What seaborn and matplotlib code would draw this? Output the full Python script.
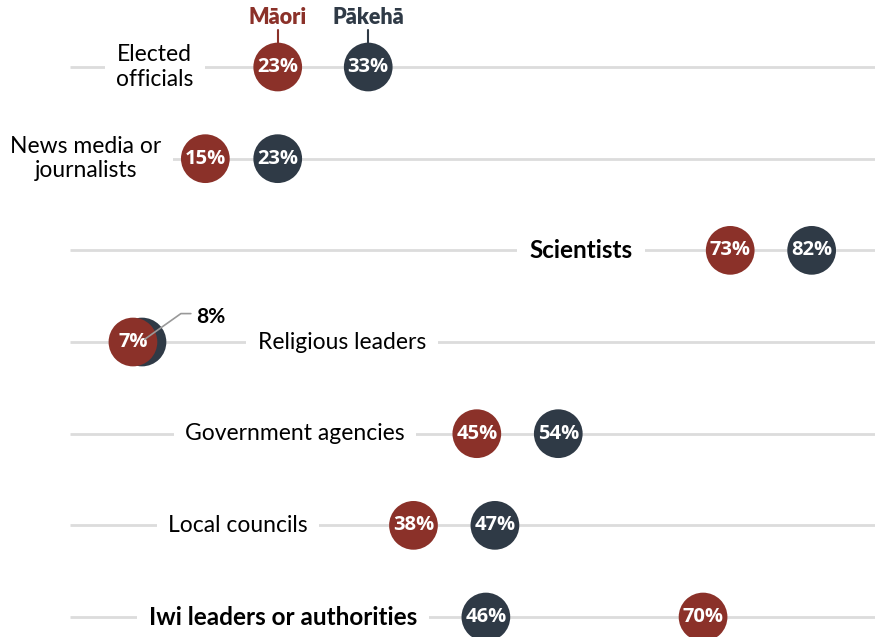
import matplotlib.pyplot as plt
import pandas as pd
import seaborn as sns

groups = ["Elected\nofficials", "News media or\njournalists", "Scientists", "Religious leaders",
          "Government agencies", "Local councils", "Iwi leaders or authorities"]
maori = [23, 15, 73, 7, 45, 38, 70]
pakeha = [33, 23, 82, 8, 54, 47, 46]
highlight = [False, False, True, False, False, False, True]

# where each row label sits on its line (in % units)
label_x = [9.4, 1.8, 56.5, 30.1, 24.9, 18.6, 23.6]

RED = "#8b3129"
DARK = "#2f3a46"

rows = list(range(len(groups)))
df = pd.DataFrame({
    "row": rows * 2,
    "value": pakeha + maori,
    "group": ["Pākehā"] * len(rows) + ["Māori"] * len(rows),
})

sns.set_theme(style="white")
plt.rcParams["font.family"] = ["Lato", "DejaVu Sans"]

fig = plt.figure(figsize=(8.75, 6.37), dpi=100)
ax = fig.add_axes([0, 0, 1, 1])

ax.hlines(rows, 0, 100, color="#dcdcdc", linewidth=2, zorder=1)

sns.scatterplot(data=df, x="value", y="row", hue="group",
                palette={"Māori": RED, "Pākehā": DARK},
                s=1230, linewidth=0, legend=False, ax=ax, zorder=3)

for i, name in enumerate(groups):
    ax.text(label_x[i], i, name, ha="center", va="center", multialignment="center",
            fontsize=17.5 if highlight[i] else 16.5,
            fontweight="bold" if highlight[i] else "normal", color="black",
            bbox=dict(boxstyle="square,pad=0.5", facecolor="white", edgecolor="none"),
            zorder=2)

pct_font = dict(ha="center", va="center", color="white", fontsize=14.5,
                fontweight="bold", family=["Open Sans", "DejaVu Sans"], zorder=5)
for i in rows:
    ax.text(maori[i], i, f"{maori[i]}%", **pct_font)
    if abs(maori[i] - pakeha[i]) > 2:
        ax.text(pakeha[i], i, f"{pakeha[i]}%", **pct_font)
    else:
        # overlapping dots: label the hidden one outside with a leader line
        ax.plot([maori[i] + 1.3, maori[i] + 5.3, maori[i] + 6.4], [i - 0.03, i - 0.31, i - 0.31],
                color="#999999", linewidth=1.2, zorder=6)
        ax.text(maori[i] + 7.0, i - 0.27, f"{pakeha[i]}%", ha="left", va="center",
                color="black", fontsize=15, fontweight="bold", zorder=6)

# series headers above the first row
for val, name, col in [(maori[0], "Māori", RED), (pakeha[0], "Pākehā", DARK)]:
    ax.plot([val, val], [-0.26, -0.4], color=col, linewidth=1.5, zorder=2)
    ax.text(val, -0.545, name, ha="center", va="center", color=col,
            fontsize=15.5, fontweight="heavy")

ax.set_xlim(-7.69, 89.0)
ax.set_ylim(6.218, -0.731)
ax.set_axis_off()

fig.savefig("out.png", dpi=100)
